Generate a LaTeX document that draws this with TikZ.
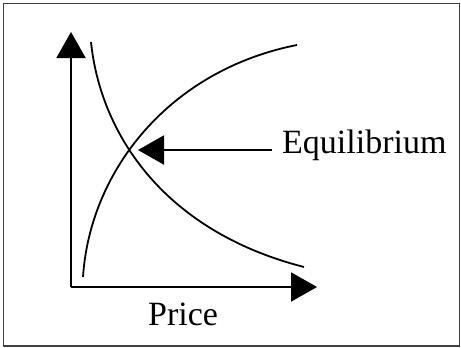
\documentclass[tikz,border=0pt]{standalone}
\usepackage{fontspec}
\setmainfont{Liberation Serif}
\usetikzlibrary{arrows.meta}

\begin{document}
\begin{tikzpicture}[x=1pt, y=-1pt,
        axis/.style={line width=2pt, -{Triangle[length=26pt, width=29pt]}},
        curve/.style={line width=1.8pt},
        label/.style={font=\fontsize{34}{40}\selectfont, inner sep=0pt}]
        \useasboundingbox (0,0) rectangle (461,348);
        % FRAME
        \draw[black!75, line width=1.6pt] (3.5,3.5) rectangle (459.5,346);
        % AXES
        \coordinate (origin) at (71,287);
        \coordinate (ytip) at (71,32);
        \coordinate (xtip) at (317,287);
        \draw[axis] (origin) -- (ytip);
        \draw[axis] (origin) -- (xtip);
        % CURVES (demand falls, supply rises)
        \coordinate (dstart) at (91,42);
        \coordinate (dend) at (304,267);
        \coordinate (sstart) at (83,277);
        \coordinate (send) at (297,45);
        \draw[curve] (dstart) .. controls (100,130) and (160,230) .. (dend);
        \draw[curve] (sstart) .. controls (90,170) and (170,70) .. (send);
        % LABELS
        \coordinate (eqtip) at (138,150);
        \node[label, anchor=base west] (eq) at (282,153) {Equilibrium};
        \node[label, anchor=base west] (price) at (148,325) {Price};
        \draw[axis] ([xshift=-10pt, yshift=3pt]eq.base west) -- (eqtip);
\end{tikzpicture}
\end{document}
